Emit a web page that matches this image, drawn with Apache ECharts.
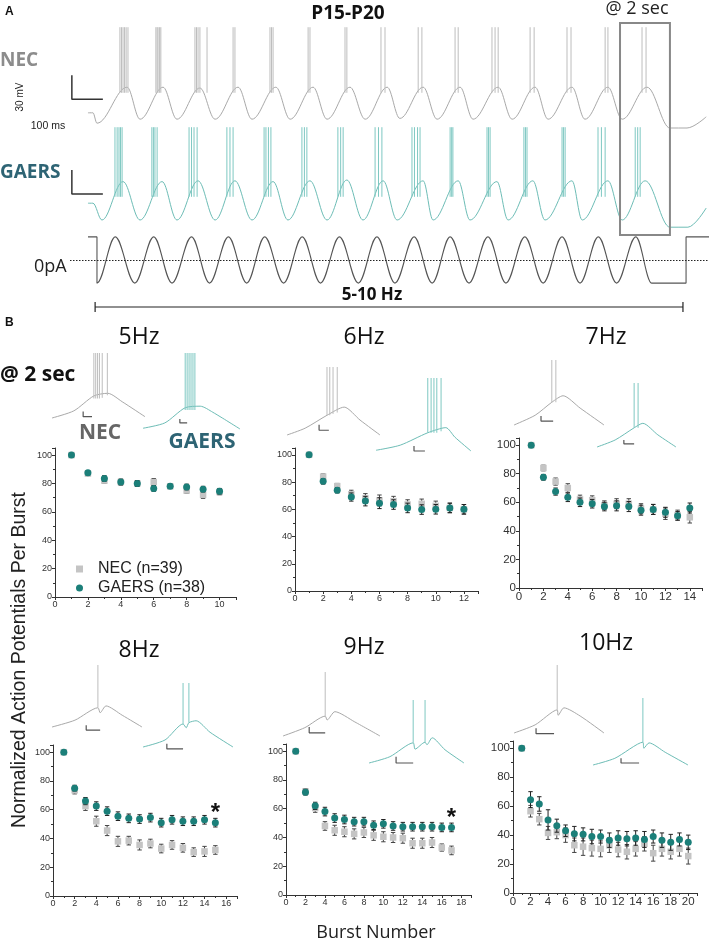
<!DOCTYPE html>
<html><head><meta charset="utf-8">
<script src="https://cdn.jsdelivr.net/npm/echarts@6/dist/echarts.min.js"></script>
<style>html,body{margin:0;padding:0;background:#fff}#c{width:709px;height:942px}</style>
</head><body><div id="c"></div>
<script>
// ================= DATA =================
// ---- Panel A: membrane potential traces (time ms, potential mV) ----
const necStart = [[0,-76],[16,-76]];
const necTroughT = [29,168,287,410,529,652,771,894,1006,1126,1242,1368,1484,1603,1723];
const necTroughV = [-89,-84,-84,-84,-84,-84,-84,-84,-83,-84,-84,-84,-84,-84,-84];
const necPeakT = [126,242,361,484,606,726,845,965,1081,1200,1323,1442,1561,1677,1803];
const necPeakV = [-44,-44,-45,-44,-44,-44,-44,-44,-44,-44,-44,-44,-44,-44,-44];
const necEnd = [[1877,-95],[1932,-95],[1994,-81]];
const necSpikeT = [103,108,113,118,123,129, 219,223,226,231,235, 345,350,355,361,384, 468,474, 587,592,597,
  710,716, 829,835, 945,958, 1065,1077, 1184,1194, 1303,1313,1323, 1426,1439, 1545,1558, 1668,1677, 1787,1800];
const necSpikeRange = [-51, 31];

const gaersStart = [[0,-64],[16,-64]];
const gaersTroughT = [45,168,287,410,529,645,771,887,997,1113,1232,1355,1474,1594,1723];
const gaersTroughV = [-85,-85,-85,-85,-85,-85,-85,-85,-85,-85,-85,-85,-85,-85,-85];
const gaersPeakT = [113,239,355,474,597,716,835,952,1081,1194,1319,1435,1561,1677,1797];
const gaersPeakV = [-37,-37,-36,-36,-37,-36,-35,-36,-36,-36,-37,-36,-36,-36,-36];
const gaersEnd = [[1877,-94],[1935,-94],[1994,-70]];
const gaersSpikeT = [87,94,100,105,110, 206,211,216,223, 326,334,342,352, 448,458,468, 568,574,582,590,
  690,698,706, 806,815,823, 926,937,948, 1045,1053,1063,1071, 1168,1173,1177, 1287,1292,1297,
  1406,1411,1416, 1529,1534,1539, 1645,1656,1668, 1765,1773,1781];
const gaersSpikeRange = [-56, 31];

// ---- Panel A: injected current (pA) ----
const curStart = [[0,100],[29,100],[29,-100]];
const curPeakT = [88,212,334,453,570,691,811,932,1052,1168,1290,1409,1529,1646,1767];
const curTroughT = [151,271,392,512,631,750,872,990,1110,1229,1348,1468,1587,1705,1818];
const curAmp = 100;
const curEnd = [[1929,-100],[1929,100],[2003,100]];
const scaleBarA = [-52, 100, 30];          // time, 100 ms, 30 mV
const boxWindowMs = [1716, 1877];
const bracketMs = [23, 1919];

// ---- Panel B insets (relative time, relative mV); spikes [t, base] ----
const in5NecTrace = [[0,-75],[47,-64],[90,-41],[120,-37],[151,-50],[200,-73]];
const in5NecSpikes = [[90,-45],[94,-45],[98,-45],[102,-45],[108,-44],[119,-40]];
const in5GaTrace = [[0,-74],[45,-67],[87,-47],[118,-45],[144,-53],[200,-75]];
const in5GaSpikes = [[87,-50],[91,-50],[95,-50],[99,-50],[103,-50],[107,-50]];
const in6NecTrace = [[0,-75],[39,-65],[86,-46],[123,-34],[157,-53],[200,-75]];
const in6NecSpikes = [[86,-46],[92,-46],[99,-44],[108,-42]];
const in6GaTrace = [[0,-74],[51,-67],[109,-50],[147,-43],[166,-56],[200,-75]];
const in6GaSpikes = [[109,-50],[116,-50],[122,-50],[128,-50],[137,-48]];
const in7NecTrace = [[0,-75],[47,-60],[84,-40],[109,-30],[147,-49],[200,-75]];
const in7NecSpikes = [[84,-40],[93,-40]];
const in7GaTrace = [[0,-75],[46,-64],[94,-45],[116,-38],[154,-56],[200,-75]];
const in7GaSpikes = [[94,-45],[104,-45]];
const in8NecTrace = [[0,-75],[51,-64],[102,-44],[107,-52],[120,-41],[156,-56],[200,-75]];
const in8NecSpikes = [[102,-44]];
const in8GaTrace = [[0,-75],[49,-64],[89,-39],[96,-45],[102,-37],[118,-34],[149,-52],[200,-75]];
const in8GaSpikes = [[89,-39],[102,-37]];
const in9NecTrace = [[0,-75],[45,-62],[87,-44],[91,-50],[107,-37],[148,-53],[200,-75]];
const in9NecSpikes = [[87,-44]];
const in9GaTrace = [[0,-75],[44,-65],[93,-43],[97,-53],[118,-42],[122,-46],[133,-35],[160,-54],[200,-75]];
const in9GaSpikes = [[93,-43],[118,-42]];
const in10NecTrace = [[0,-75],[47,-63],[96,-41],[98,-49],[111,-38],[147,-50],[200,-75]];
const in10NecSpikes = [[96,-41]];
const in10GaTrace = [[0,-75],[46,-65],[105,-41],[107,-50],[118,-42],[152,-56],[200,-75]];
const in10GaSpikes = [[105,-41]];
const insetSpikeTop = 25;
// scale bars [t0, v0, dt, dv]
const in5NecBar=[67,-73,19,8], in5GaBar=[76,-67,15,5], in6NecBar=[69,-68,21,8], in6GaBar=[80,-75,23,7];
const in7NecBar=[60,-69,27,8], in7GaBar=[68,-70,26,6], in8NecBar=[76,-80,31,8], in8GaBar=[53,-78,36,8];
const in9NecBar=[54,-70,33,9], in9GaBar=[57,-75,36,10], in10NecBar=[49,-76,40,8], in10GaBar=[59,-72,38,7];

// ---- Panel B: normalized APs per burst (mean, SEM) ----
const burst5 = [1,2,3,4,5,6,7,8,9,10];
const nec5 = [100,87,82,81,80,81,78,75,72,74];
const nec5Err = [0,1.5,2,2,2,2.5,1.5,2,2.5,2];
const gaers5 = [100,87.5,83.5,81,80,76.5,78,77.5,76,74.5];
const gaers5Err = [0,1.5,2,2,2,2,1.5,2,2,2];

const burst6 = [1,2,3,4,5,6,7,8,9,10,11,12];
const nec6 = [100,84,77,71,68,66.5,66,63.5,64,62.5,61,60];
const nec6Err = [0,2,2,3,3.5,4,3.5,3.5,3.5,3.5,3.5,3.5];
const gaers6 = [100,80.5,74,69,66,64.5,63.5,61,59.8,60,61,60];
const gaers6Err = [0,2,2,3,3.5,4,3.5,3.5,3.5,3.5,3.5,3.5];

const burst7 = [1,2,3,4,5,6,7,8,9,10,11,12,13,14];
const nec7 = [100,84,74.5,70,62,61.5,58,59,59,55.5,55,52,51,49.5];
const nec7Err = [0,2,2.5,3,3,3,3,3.5,3.5,3.5,3.5,4,3.5,4];
const gaers7 = [100,77.5,67.5,63.5,60,59,57,57.5,57,54.5,55,53,50.5,56];
const gaers7Err = [0,2,2.5,3,3,3,3,3.5,3.5,3.5,3.5,3.5,3,3.5];

const burst8 = [1,2,3,4,5,6,7,8,9,10,11,12,13,14,15];
const nec8 = [100,73.5,62.5,52,45.5,38,38.5,35.5,36.5,33,35.5,33.5,30.5,31,32];
const nec8Err = [0,2.5,3,3.5,3.5,3.5,3,3.5,3,3,3,3,3,3.5,3];
const gaers8 = [100,75,66,62.5,59,55.5,54,53.5,54.5,51,53,52,52,53,51];
const gaers8Err = [0,2,2.5,3,3,3,3,3,3,3,3,3,3,3,3];
const star8 = [[15,61]];

const burst9 = [1,2,3,4,5,6,7,8,9,10,11,12,13,14,15,16,17];
const nec9 = [100,72,60.5,48,45,44,42.5,43.5,41.5,40.5,40,39.5,36,36,36.5,33,31];
const nec9Err = [0,2,3,3,3.5,3.5,3.5,3.5,3.5,3.5,3.5,3.5,3.5,3.5,3.5,2.5,3];
const gaers9 = [100,71.5,62,58,53.5,52.5,51,51,48.5,49.5,48,47.5,47.5,47.5,47.5,47,47];
const gaers9Err = [0,2,2.5,3,3,3,3,3,3,3,3,3,3,3,3,3,3];
const star9 = [[17,57]];

const burst10 = [1,2,3,4,5,6,7,8,9,10,11,12,13,14,15,16,17,18,19,20];
const nec10 = [100,56.5,51,41.5,42,40,33,32,31,30.5,33,30,28.5,30.5,34,27.5,30.5,28.5,30.5,25.5];
const nec10Err = [0,4,4,4.5,4.5,5,5,6,5.5,5.5,5,5,5,5,5,5.5,5,5,5,5.5];
const gaers10 = [100,64.5,61.5,50.5,46.5,43,41,40.5,39,39,36.5,38,37.5,38,37,39,36.5,35,37,35];
const gaers10Err = [0,5.5,5,7,4.5,4,5,4.5,5,4.5,5,5,5,5,5.5,4.5,5,5.5,4.5,5];

// ================= CHART =================
const chart = echarts.init(document.getElementById('c'));
const FS = "'Open Sans', 'DejaVu Sans', sans-serif";
const FA = "'Liberation Sans', Arial, sans-serif";
const C_NEC = '#c4c4c4', C_GA = '#1b7f79';
const C_NEC_TR = '#a9a9a9', C_GA_TR = '#6dbdb6';
const C_NEC_SP = '#bdbdbd', C_GA_SP = '#7ec8c2';
const grids = [], xAxes = [], yAxes = [], series = [];
function addGrid(box, xa, ya) {
  const i = grids.length;
  grids.push(box);
  xAxes.push(Object.assign({gridIndex: i}, xa));
  yAxes.push(Object.assign({gridIndex: i}, ya));
  return i;
}
function vLineRender(params, api) {
  const x = api.value(0);
  const a = api.coord([x, api.value(1)]), b = api.coord([x, api.value(2)]);
  return {type: 'line', shape: {x1: a[0], y1: a[1], x2: b[0], y2: b[1]},
    style: {stroke: api.visual('color'), lineWidth: 1}};
}
function addSpikes(gi, data, color) {
  series.push({type: 'custom', xAxisIndex: gi, yAxisIndex: gi, renderItem: vLineRender,
    data: data, itemStyle: {color: color}, clip: false, silent: true, z: 3});
}
function addLine(gi, data, color, width, smooth, mono, z) {
  series.push({type: 'line', xAxisIndex: gi, yAxisIndex: gi, data: data, smooth: smooth,
    smoothMonotone: mono, symbol: 'none', clip: false, silent: true, z: z || 2,
    lineStyle: {color: color, width: width}});
}
function buildTrace(start, tT, tV, pT, pV, end) {
  const pts = start.slice();
  for (let i = 0; i < tT.length; i++) { pts.push([tT[i], tV[i]]); pts.push([pT[i], pV[i]]); }
  return pts.concat(end);
}
function barPoints(b) { return [[b[0], b[1] + b[3]], [b[0], b[1]], [b[0] + b[2], b[1]]]; }

// ---- Panel A grids ----
const aX = {type: 'value', min: -58, max: 2003, show: false};
const gNec = addGrid({left: 70, top: 20, width: 639, height: 112}, aX, {type: 'value', min: -100, max: 40, show: false});
const gGa = addGrid({left: 70, top: 120, width: 639, height: 112}, aX, {type: 'value', min: -100, max: 40, show: false});
const gCur = addGrid({left: 70, top: 230, width: 639, height: 60}, aX, {type: 'value', min: -130, max: 130, show: false});

addLine(gNec, buildTrace(necStart, necTroughT, necTroughV, necPeakT, necPeakV, necEnd), C_NEC_TR, 1, 0.36, 'x');
addSpikes(gNec, necSpikeT.map(t => [t, necSpikeRange[0], necSpikeRange[1]]), C_NEC_SP);
addLine(gGa, buildTrace(gaersStart, gaersTroughT, gaersTroughV, gaersPeakT, gaersPeakV, gaersEnd), C_GA_TR, 1, 0.36, 'x');
addSpikes(gGa, gaersSpikeT.map(t => [t, gaersSpikeRange[0], gaersSpikeRange[1]]), C_GA_SP);
// scale bars (30 mV / 100 ms)
addLine(gNec, [[scaleBarA[0], -29], [scaleBarA[0], -29 - scaleBarA[2]], [scaleBarA[0] + scaleBarA[1], -29 - scaleBarA[2]]], '#333', 1.5, false);
addLine(gGa, [[scaleBarA[0], -22.5], [scaleBarA[0], -22.5 - scaleBarA[2]], [scaleBarA[0] + scaleBarA[1], -22.5 - scaleBarA[2]]], '#333', 1.5, false);
// current
const curPts = curStart.slice();
for (let i = 0; i < curPeakT.length; i++) { curPts.push([curPeakT[i], curAmp]); curPts.push([curTroughT[i], -curAmp]); }
series.push({type: 'line', xAxisIndex: gCur, yAxisIndex: gCur, data: curPts.concat(curEnd), smooth: 0.36,
  smoothMonotone: 'x', symbol: 'none', silent: true, clip: false, lineStyle: {color: '#555', width: 1.1},
  markLine: {silent: true, symbol: 'none', label: {show: false}, animation: false,
    lineStyle: {type: [1.5, 1.5], color: '#222', width: 1}, data: [{yAxis: 0}]}});

// ---- Panel B insets ----
const insetLayout = [
  [in5NecTrace, in5NecSpikes, in5NecBar, 52, 93, 353, 65, 'n'],
  [in5GaTrace, in5GaSpikes, in5GaBar, 143, 97, 353, 76, 'g'],
  [in6NecTrace, in6NecSpikes, in6NecBar, 287, 93, 367, 68, 'n'],
  [in6GaTrace, in6GaSpikes, in6GaBar, 376, 95, 378, 73, 'g'],
  [in7NecTrace, in7NecSpikes, in7NecBar, 514, 90, 360, 65, 'n'],
  [in7GaTrace, in7GaSpikes, in7GaBar, 597, 79, 383, 64, 'g'],
  [in8NecTrace, in8NecSpikes, in8NecBar, 52, 90, 665, 62, 'n'],
  [in8GaTrace, in8GaSpikes, in8GaBar, 143, 90, 683, 64, 'g'],
  [in9NecTrace, in9NecSpikes, in9NecBar, 283, 97, 672, 64, 'n'],
  [in9GaTrace, in9GaSpikes, in9GaBar, 369, 95, 700, 63, 'g'],
  [in10NecTrace, in10NecSpikes, in10NecBar, 514, 90, 665, 68, 'n'],
  [in10GaTrace, in10GaSpikes, in10GaBar, 593, 95, 698, 67, 'g']
];
insetLayout.forEach(L => {
  const gi = addGrid({left: L[3], width: L[4], top: L[5], height: L[6] * 1.15},
    {type: 'value', min: 0, max: 200, show: false}, {type: 'value', min: -90, max: 25, show: false});
  const isN = L[7] === 'n';
  addLine(gi, L[0], isN ? C_NEC_TR : C_GA_TR, 1, 0.25);
  addSpikes(gi, L[1].map(s => [s[0], s[1], insetSpikeTop]), isN ? C_NEC_SP : C_GA_SP);
  addLine(gi, barPoints(L[2]), '#555', 1.2, false);
});

// ---- Panel B main charts ----
function errRender(params, api) {
  const x = api.value(0), y = api.value(1), e = api.value(2);
  if (!e) return null;
  const lo = api.coord([x, y - e]), hi = api.coord([x, y + e]);
  const w = 2.2, st = {stroke: api.visual('color'), lineWidth: 1};
  return {type: 'group', children: [
    {type: 'line', shape: {x1: lo[0], y1: lo[1], x2: hi[0], y2: hi[1]}, style: st},
    {type: 'line', shape: {x1: lo[0] - w, y1: lo[1], x2: lo[0] + w, y2: lo[1]}, style: st},
    {type: 'line', shape: {x1: hi[0] - w, y1: hi[1], x2: hi[0] + w, y2: hi[1]}, style: st}]};
}
function starRender(params, api) {
  const p = api.coord([api.value(0), api.value(1)]);
  return {type: 'text', x: p[0], y: p[1] + 5, style: {text: '*', fill: '#111', font: 'bold 24px ' + FA, align: 'center', verticalAlign: 'middle'}};
}
const mainLayout = [
  [burst5, nec5, nec5Err, gaers5, gaers5Err, {left: 55, top: 448, width: 181, height: 149}, 11, 9, null],
  [burst6, nec6, nec6Err, gaers6, gaers6Err, {left: 295, top: 448, width: 183, height: 143}, 13, 9, null],
  [burst7, nec7, nec7Err, gaers7, gaers7Err, {left: 519, top: 438, width: 183, height: 150}, 15, 11.5, null],
  [burst8, nec8, nec8Err, gaers8, gaers8Err, {left: 53, top: 745, width: 184, height: 151}, 17, 9, star8],
  [burst9, nec9, nec9Err, gaers9, gaers9Err, {left: 286, top: 744, width: 185, height: 151}, 19, 9, star9],
  [burst10, nec10, nec10Err, gaers10, gaers10Err, {left: 513, top: 741, width: 184, height: 152}, 21, 11.5, null]
];
mainLayout.forEach(L => {
  const fs = L[7];
  const axLine = {show: true, lineStyle: {color: '#333', width: 1}};
  const gi = addGrid(L[5],
    {type: 'value', min: 0, max: L[6], interval: 2, axisLine: axLine, splitLine: {show: false},
      axisTick: {show: true, length: 3, lineStyle: {color: '#333'}},
      minorTick: {show: true, splitNumber: 2, length: 2, lineStyle: {color: '#333'}},
      axisLabel: {fontSize: fs, fontFamily: FA, color: '#333', margin: 3, showMaxLabel: false}},
    {type: 'value', min: 0, max: 105, interval: 20, axisLine: axLine, splitLine: {show: false},
      axisTick: {show: true, length: 3, lineStyle: {color: '#333'}},
      minorTick: {show: true, splitNumber: 2, length: 2, lineStyle: {color: '#333'}},
      axisLabel: {fontSize: fs, fontFamily: FA, color: '#333', margin: 3, showMaxLabel: false}});
  const xs = L[0];
  series.push({type: 'custom', xAxisIndex: gi, yAxisIndex: gi, renderItem: errRender, silent: true, z: 4,
    itemStyle: {color: '#444'}, data: xs.map((x, i) => [x, L[1][i], L[2][i]])});
  series.push({type: 'scatter', name: 'NEC (n=39)', xAxisIndex: gi, yAxisIndex: gi, symbol: 'rect', symbolSize: 6.5, z: 5,
    itemStyle: {color: C_NEC, opacity: 1}, data: xs.map((x, i) => [x, L[1][i]])});
  series.push({type: 'custom', xAxisIndex: gi, yAxisIndex: gi, renderItem: errRender, silent: true, z: 6,
    itemStyle: {color: '#222'}, data: xs.map((x, i) => [x, L[3][i], L[4][i]])});
  series.push({type: 'scatter', name: 'GAERS (n=38)', xAxisIndex: gi, yAxisIndex: gi, symbol: 'circle', symbolSize: 7, z: 7,
    itemStyle: {color: C_GA, opacity: 1}, data: xs.map((x, i) => [x, L[3][i]])});
  if (L[8]) series.push({type: 'custom', xAxisIndex: gi, yAxisIndex: gi, renderItem: starRender, silent: true, z: 8, clip: false, data: L[8]});
});

chart.setOption({
  animation: false,
  backgroundColor: '#fff',
  grid: grids, xAxis: xAxes, yAxis: yAxes, series: series,
  legend: {show: true, left: 71, top: 556, orient: 'vertical', itemGap: 3, itemWidth: 7, itemHeight: 7,
    selectedMode: false, textStyle: {fontFamily: FA, fontSize: 16, color: '#222', padding: [0, 0, 0, 10]},
    data: [{name: 'NEC (n=39)', icon: 'rect'}, {name: 'GAERS (n=38)', icon: 'circle'}]}
});

// ---- annotations (text, box, bracket) ----
const bx0 = chart.convertToPixel({gridIndex: gCur}, [boxWindowMs[0], 0])[0];
const bx1 = chart.convertToPixel({gridIndex: gCur}, [boxWindowMs[1], 0])[0];
const br0 = chart.convertToPixel({gridIndex: gCur}, [bracketMs[0], 0])[0];
const br1 = chart.convertToPixel({gridIndex: gCur}, [bracketMs[1], 0])[0];
function T(text, x, y, font, fill, align, rot) {
  return {type: 'text', x: x, y: y, rotation: rot || 0, silent: true, z: 10,
    style: {text: text, font: font, fill: fill || '#111', align: align || 'center', verticalAlign: 'middle'}};
}
const brY = 307;
const graphics = [
  T('A', 5, 12, 'bold 12px ' + FA, '#111', 'left'),
  T('P15-P20', 348, 14, 'bold 19px ' + FS, '#111'),
  T('@ 2 sec', 637, 9, '18px ' + FS, '#222'),
  T('NEC', 0, 61, 'bold 19px ' + FS, '#8c8c8c', 'left'),
  T('30 mV', 20, 97, '10px ' + FA, '#222', 'center', Math.PI / 2),
  T('100 ms', 48, 126, '10.5px ' + FA, '#222'),
  T('GAERS', 0, 173, 'bold 19px ' + FS, '#2e6474', 'left'),
  T('0pA', 34, 267, '18px ' + FS, '#222', 'left'),
  T('5-10 Hz', 372, 295, 'bold 17px ' + FS, '#111'),
  {type: 'rect', silent: true, z: 9, shape: {x: bx0, y: 23, width: bx1 - bx0, height: 212},
    style: {fill: 'none', stroke: '#888', lineWidth: 2}},
  {type: 'line', silent: true, shape: {x1: br0, y1: brY, x2: br1, y2: brY}, style: {stroke: '#222', lineWidth: 1.2}},
  {type: 'line', silent: true, shape: {x1: br0, y1: brY - 5, x2: br0, y2: brY + 5}, style: {stroke: '#222', lineWidth: 1.2}},
  {type: 'line', silent: true, shape: {x1: br1, y1: brY - 5, x2: br1, y2: brY + 5}, style: {stroke: '#222', lineWidth: 1.2}},
  T('B', 5, 323, 'bold 12px ' + FA, '#111', 'left'),
  T('5Hz', 139, 337, '23px ' + FS, '#111'),
  T('6Hz', 364, 337, '23px ' + FS, '#111'),
  T('7Hz', 606, 337, '23px ' + FS, '#111'),
  T('@ 2 sec', 0, 375, 'bold 21px ' + FS, '#111', 'left'),
  T('NEC', 100, 433, 'bold 21px ' + FS, '#666'),
  T('GAERS', 202, 442, 'bold 21px ' + FS, '#2e6474'),
  T('8Hz', 139, 650, '23px ' + FS, '#111'),
  T('9Hz', 364, 647, '23px ' + FS, '#111'),
  T('10Hz', 606, 643, '23px ' + FS, '#111'),
  T('Normalized Action Potentials Per Burst', 20, 660, '19.5px ' + FA, '#222', 'center', Math.PI / 2),
  T('Burst Number', 376, 933, '18px ' + FS, '#222')
];
chart.setOption({graphic: graphics});
</script>
</body></html>
